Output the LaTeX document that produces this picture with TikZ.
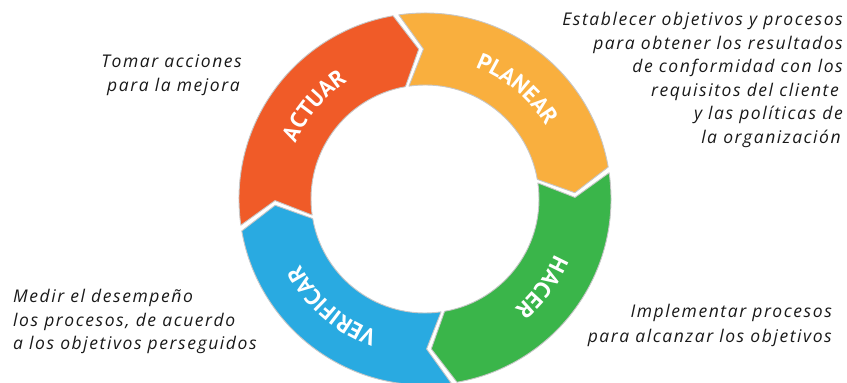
\documentclass[tikz,border=0pt]{standalone}
\usepackage{fontspec}
\setmainfont{Open Sans}
\newfontfamily\notefont{Open Sans}[LetterSpace=9]
\newfontfamily\labfont{PT Sans}
\usetikzlibrary{decorations.text}
\definecolor{cact}{RGB}{240,91,40}
\definecolor{cpla}{RGB}{249,175,62}
\definecolor{chac}{RGB}{58,181,74}
\definecolor{cver}{RGB}{41,170,225}
\tikzset{
  seg/.style={draw=black!22, line width=0.9pt, line join=round},
  note/.style={inner sep=0pt, font=\notefont\itshape\fontsize{17.5}{17.5}\selectfont, text=black!90},
}
\newcommand\ringseg[3]{%
  \pgfmathsetmacro\sA{#1-0.9}%
  \pgfmathsetmacro\eA{#2+0.9}%
  \pgfmathsetmacro\sT{\sA-7.5}%
  \pgfmathsetmacro\eT{\eA-7.5}%
  \path[seg, fill=#3] (\sA:186) arc[start angle=\sA, end angle=\eA, radius=186]
    -- (\eT:150) -- (\eA:114) arc[start angle=\eA, end angle=\sA, radius=114]
    -- (\sT:150) -- cycle;}
\newcommand\ringlabel[2]{%
  \pgfmathsetmacro\cA{#1+45}%
  \pgfmathsetmacro\cB{#1-45}%
  \path[decorate, decoration={text along path, text={|\labfont\bfseries\fontsize{23}{23}\selectfont|#2}, text align=center, text color=white}]
    (\cA:141) arc[start angle=\cA, end angle=\cB, radius=141];}
\begin{document}
\begin{tikzpicture}[x=1pt,y=1pt]
\useasboundingbox (0,0) rectangle (847,383);
\clip (0,0) rectangle (847,383);
\begin{scope}[shift={(425,184)}]
  \ringseg{189}{99}{cact}
  \ringseg{99}{9}{cpla}
  \ringseg{9}{-81}{chac}
  \ringseg{-81}{-171}{cver}
  \ringlabel{140}{ACTUAR}
  \ringlabel{50}{PLANEAR}
  \ringlabel{-37}{HACER}
  \ringlabel{229}{VERIFICAR}
\end{scope}
% top right
\node[note, anchor=base east] (p1) at (843,357) {Establecer objetivos y procesos};
\node[note, anchor=base east] (p2) at (843,333.5) {para obtener los resultados};
\node[note, anchor=base east] (p3) at (843,310) {de conformidad con los};
\node[note, anchor=base east] (p4) at (839,286.5) {requisitos del cliente};
\node[note, anchor=base east] (p5) at (843,263) {y las políticas de};
\node[note, anchor=base east] (p6) at (841,239.5) {la organización};
% top left
\node[note, anchor=base east] (a1) at (242,315) {Tomar acciones};
\node[note, anchor=base east] (a2) at (240,291) {para la mejora};
% bottom left
\node[note, anchor=base west] (v1) at (13,80) {Medir el desempeño};
\node[note, anchor=base west] (v2) at (13,56) {los procesos, de acuerdo};
\node[note, anchor=base west] (v3) at (13,33) {a los objetivos perseguidos};
% bottom right
\node[note, anchor=base east] (h1) at (832,65) {Implementar procesos};
\node[note, anchor=base east] (h2) at (832,40) {para alcanzar los objetivos};
\end{tikzpicture}
\end{document}
